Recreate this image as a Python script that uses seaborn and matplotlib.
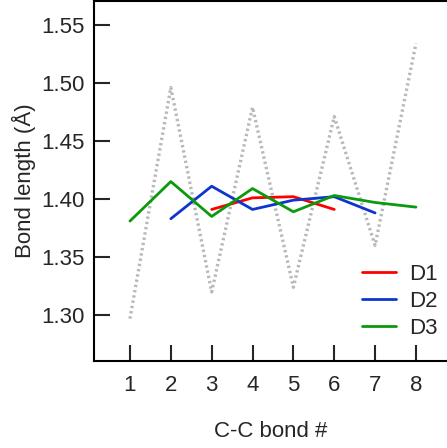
import numpy as np
import pandas as pd
import matplotlib
matplotlib.use("Agg")
import matplotlib.pyplot as plt
import seaborn as sns

# C-C bond lengths (Angstrom)
bonds_ref = [1, 2, 3, 4, 5, 6, 7, 8]
ref_len = [1.297, 1.496, 1.320, 1.479, 1.324, 1.471, 1.360, 1.534]

bonds_d1 = [3, 4, 5, 6]
d1_len = [1.391, 1.401, 1.402, 1.391]

bonds_d2 = [2, 3, 4, 5, 6, 7]
d2_len = [1.383, 1.411, 1.391, 1.399, 1.402, 1.388]

bonds_d3 = [1, 2, 3, 4, 5, 6, 7, 8]
d3_len = [1.381, 1.415, 1.385, 1.409, 1.389, 1.403, 1.397, 1.393]

colors = {"D1": "#ff0000", "D2": "#1035cc", "D3": "#0a9a0a"}

df = pd.concat([
    pd.DataFrame({"bond": bonds_d1, "length": d1_len, "set": "D1"}),
    pd.DataFrame({"bond": bonds_d2, "length": d2_len, "set": "D2"}),
    pd.DataFrame({"bond": bonds_d3, "length": d3_len, "set": "D3"}),
])

sns.set_style("ticks")
plt.rcParams["font.family"] = ["Liberation Sans", "DejaVu Sans"]

fig = plt.figure(figsize=(4.47, 4.48), dpi=100)
ax = fig.add_axes([94 / 447, 87 / 448, 353 / 447, 360 / 448])

sns.lineplot(x=bonds_ref, y=ref_len, ax=ax, color="#b8b8b8", lw=2.4,
             linestyle=(0, (0.7, 0.9)), legend=False)
sns.lineplot(data=df, x="bond", y="length", hue="set", palette=colors,
             ax=ax, lw=2.0, sort=False)

ax.set_xlim(0.12, 8.76)
ax.set_ylim(1.2605, 1.5705)
ax.set_xticks(bonds_ref)
ax.set_yticks([1.30, 1.35, 1.40, 1.45, 1.50, 1.55])
ax.set_yticklabels(["1.30", "1.35", "1.40", "1.45", "1.50", "1.55"])
ax.tick_params(direction="in", length=11.5, width=1.5, labelsize=16, pad=7)
ax.tick_params(axis="x", pad=10)
for side in ["left", "bottom", "top"]:
    ax.spines[side].set_linewidth(1.5)
    ax.spines[side].set_color("black")
ax.spines["right"].set_visible(False)

ax.set_xlabel("C-C bond #", fontsize=16, labelpad=18)
ax.set_ylabel("Bond length (Å)", fontsize=16, labelpad=3.5)

leg = ax.legend(loc="lower right", bbox_to_anchor=(1.005, 0.03), frameon=False,
                fontsize=16, handlelength=1.5, handletextpad=0.6,
                labelspacing=0.28, borderpad=0)

fig.savefig("out.png", dpi=100)
